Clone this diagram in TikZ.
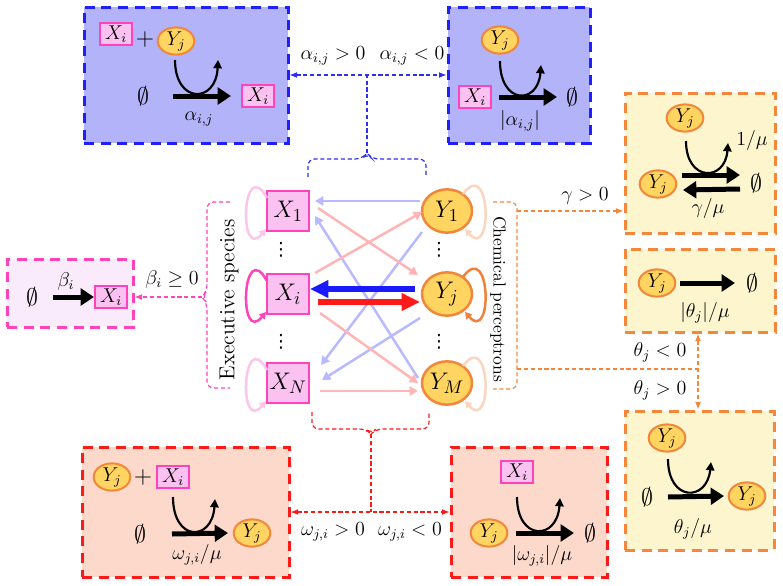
\documentclass[tikz,border=0pt]{standalone}
\usepackage{amsmath,amssymb}
\usepackage{fontspec}
\newfontfamily\djv{DejaVu Sans}
\usetikzlibrary{arrows.meta,calc,fit,shapes.geometric}
\definecolor{bluefill}{HTML}{B3B3F9}
\definecolor{bluedash}{HTML}{1F1FFF}
\definecolor{blueconn}{HTML}{2F2FF0}
\definecolor{redfill}{HTML}{FDD9CC}
\definecolor{reddash}{HTML}{FF1A1A}
\definecolor{orfill}{HTML}{FCF5CE}
\definecolor{ordash}{HTML}{F4873A}
\definecolor{pkfill}{HTML}{F9EBFB}
\definecolor{pkdash}{HTML}{FF44BB}
\definecolor{xfill}{HTML}{FBC2F1}
\definecolor{xdraw}{HTML}{FF44BB}
\definecolor{yfill}{HTML}{FFD460}
\definecolor{ydraw}{HTML}{F0873A}
\definecolor{lightblue}{HTML}{B9B9FF}
\definecolor{lightred}{HTML}{FFB5B5}
\definecolor{lightpink}{HTML}{FAC6EA}
\definecolor{lightorange}{HTML}{FAD5BF}
\definecolor{strongblue}{HTML}{1A1AFF}
\definecolor{strongred}{HTML}{FF1A1A}
\definecolor{strongorange}{HTML}{F0803A}
\tikzset{
  bigbox/.style={line width=1.8pt, dash pattern=on 6pt off 4pt, inner sep=0pt},
  bluebox/.style={bigbox, draw=bluedash, fill=bluefill},
  redbox/.style={bigbox, draw=reddash, fill=redfill},
  orbox/.style={bigbox, draw=ordash, fill=orfill},
  pinkbox/.style={bigbox, draw=pkdash, fill=pkfill},
  bigX/.style={draw=xdraw, fill=xfill, line width=1.5pt, minimum width=25pt, minimum height=24pt, inner sep=0pt, font=\fontsize{15}{18}\selectfont},
  bigY/.style={ellipse, draw=ydraw, fill=yfill, line width=1.5pt, minimum width=30pt, minimum height=26pt, inner sep=0pt, font=\fontsize{15}{18}\selectfont},
  smX/.style={draw=xdraw, fill=xfill, line width=1.2pt, minimum width=19pt, minimum height=13pt, inner sep=0pt, font=\large},
  smY/.style={ellipse, draw=ydraw, fill=yfill, line width=1.2pt, minimum width=22pt, minimum height=15pt, inner sep=0pt, font=\large},
  nul/.style={font=\Large, inner sep=0pt},
  plus/.style={font=\Large, inner sep=0pt},
  lab/.style={font=\large, inner sep=1pt},
  dots/.style={font=\djv\fontsize{11}{12}\selectfont, inner sep=0pt},
  rxn/.style={line width=3pt, -{Triangle[length=8pt,width=10pt]}},
  cat/.style={line width=1.3pt, -{Triangle[length=5pt,width=5pt]}},
  conn/.style={line width=0.7pt, dash pattern=on 2.5pt off 1.6pt, >={Latex[length=4.5pt,width=3.5pt]}},
  lightarr/.style={line width=1.5pt, -{Triangle[length=5pt,width=5.5pt]}},
  thickarr/.style={line width=3.5pt, -{Triangle[length=11pt,width=10pt]}},
  loopst/.style={line width=1.5pt, -{Triangle[length=4pt,width=4.5pt]}},
}
\begin{document}
\begin{tikzpicture}[x=0.6pt,y=-0.6pt]
\useasboundingbox (0,0) rectangle (783,586);

% ---------- boxes ----------
\node[bluebox, fit={(84,7) (288,143)}] (TL) {};
\node[bluebox, fit={(448,7) (590,143)}] (TR) {};
\node[pinkbox, fit={(7,259) (133,327)}] (LB) {};
\node[orbox, fit={(625,93) (775,233)}] (R1) {};
\node[orbox, fit={(625,249) (775,332)}] (R2) {};
\node[orbox, fit={(625,411) (774,550)}] (R3) {};
\node[redbox, fit={(82,447) (289,577)}] (BL) {};
\node[redbox, fit={(451,447) (607,577)}] (BR) {};

% ---------- top-left box ----------
\node[smX] (a1) at (116,34) {$X_i$};
\node[plus] (a2) at (145,40) {$+$};
\node[smY] (a3) at (176,41) {$Y_j$};
\node[nul] (a4) at (143,96) {$\emptyset$};
\node[smX] (a5) at (258,96) {$X_i$};
\draw[rxn] ($(a4)+(30,0)$) -- ($(a5)+(-27,0)$);
\draw[cat] ($(a3)+(-1,19)$) .. controls ($(a3)+(-1,63)$) and ($(a3)+(40,63)$) .. ($(a3)+(42,19)$);
\node[lab] (a6) at (199,119) {$\alpha_{i,j}$};

% ---------- top-right box ----------
\node[smY] (b1) at (500,40) {$Y_j$};
\node[smX] (b2) at (475,97) {$X_i$};
\node[nul] (b3) at (572,97) {$\emptyset$};
\draw[rxn] ($(b2)+(24,0)$) -- ($(b3)+(-15,0)$);
\draw[cat] ($(b1)+(0,21)$) .. controls ($(b1)+(0,65)$) and ($(b1)+(38,65)$) .. ($(b1)+(41,25)$);
\node[lab] (b4) at (520,121) {$|\alpha_{i,j}|$};

% ---------- left box ----------
\node[nul] (c1) at (32,297) {$\emptyset$};
\node[smX] (c2) at (111,297) {$X_i$};
\draw[rxn] ($(c1)+(21,0)$) -- ($(c2)+(-17,0)$);
\node[lab] (c3) at (66,281) {$\beta_i$};

% ---------- right box 1 ----------
\node[smY] (d1) at (685,118) {$Y_j$};
\node[smY] (d2) at (658,184) {$Y_j$};
\node[nul] (d3) at (756,183) {$\emptyset$};
\draw[rxn] ($(d2)+(24,-9)$) -- ($(d3)+(-16,-8)$);
\draw[rxn] ($(d3)+(-16,6)$) -- ($(d2)+(25,6)$);
\draw[cat] ($(d1)+(1,23)$) .. controls ($(d1)+(1,64)$) and ($(d1)+(40,64)$) .. ($(d1)+(43,25)$);
\node[lab] (d4) at (752,140) {$1/\mu$};
\node[lab] (d5) at (708,208) {$\gamma/\mu$};

% ---------- right box 2 ----------
\node[smY] (e1) at (657,283) {$Y_j$};
\node[nul] (e2) at (752,283) {$\emptyset$};
\draw[rxn] ($(e1)+(23,0)$) -- ($(e2)+(-17,0)$);
\node[lab] (e3) at (705,313) {$|\theta_j|/\mu$};

% ---------- right box 3 ----------
\node[smY] (f1) at (667,438) {$Y_j$};
\node[nul] (f2) at (647,497) {$\emptyset$};
\node[smY] (f3) at (747,496) {$Y_j$};
\draw[rxn] ($(f2)+(21,0)$) -- ($(f3)+(-23,0)$);
\draw[cat] ($(f1)+(1,21)$) .. controls ($(f1)+(1,64)$) and ($(f1)+(40,64)$) .. ($(f1)+(44,24)$);
\node[lab] (f4) at (693,529) {$\theta_j/\mu$};

% ---------- bottom-left box ----------
\node[smY] (g1) at (112,477) {$Y_j$};
\node[plus] (g5) at (143,477) {$+$};
\node[smX] (g2) at (173,477) {$X_i$};
\node[nul] (g3) at (140,534) {$\emptyset$};
\node[smY] (g4) at (252,533) {$Y_j$};
\draw[rxn] ($(g3)+(32,0)$) -- ($(g4)+(-24,0)$);
\draw[cat] ($(g2)+(0,20)$) .. controls ($(g2)+(0,65)$) and ($(g2)+(39,65)$) .. ($(g2)+(42,22)$);
\node[lab] (g6) at (197,555) {$\omega_{j,i}/\mu$};

% ---------- bottom-right box ----------
\node[smX] (h1) at (517,472) {$X_i$};
\node[smY] (h2) at (489,533) {$Y_j$};
\node[nul] (h3) at (590,533) {$\emptyset$};
\draw[rxn] ($(h2)+(27,0)$) -- ($(h3)+(-16,0)$);
\draw[cat] ($(h1)+(0,25)$) .. controls ($(h1)+(0,69)$) and ($(h1)+(40,69)$) .. ($(h1)+(43,26)$);
\node[lab] (h4) at (542,556) {$|\omega_{j,i}|/\mu$};

% ---------- central network ----------
\node[bigX] (X1) at (288,211) {$X_1$};
\node[bigX] (Xi) at (288,294) {$X_i$};
\node[bigX] (XN) at (288,383) {$X_N$};
\node[bigY] (Y1) at (447,211) {$Y_1$};
\node[bigY] (Yj) at (447,294) {$Y_j$};
\node[bigY] (YM) at (447,383) {$Y_M$};
\node[dots] (v1) at (281,250) {⋮};
\node[dots] (v2) at (281,342) {⋮};
\node[dots] (v3) at (439,250) {⋮};
\node[dots] (v4) at (439,342) {⋮};

% light arrows
\draw[lightarr, draw=lightblue] ($(Y1)+(-27,-10)$) -- ($(X1)+(27,-10)$);
\draw[lightarr, draw=lightblue] ($(YM)+(-29,-5)$) -- ($(X1)+(27,5)$);
\draw[lightarr, draw=lightblue] ($(Y1)+(-25,21)$) -- ($(XN)+(33,-18)$);
\draw[lightarr, draw=lightblue] ($(Yj)+(-27,24)$) -- ($(XN)+(34,-3)$);
\draw[lightarr, draw=lightred] ($(X1)+(30,-3)$) -- ($(Yj)+(-29,-19)$);
\draw[lightarr, draw=lightred] ($(Xi)+(27,-21)$) -- ($(Y1)+(-25,1)$);
\draw[lightarr, draw=lightred] ($(Xi)+(32,19)$) -- ($(YM)+(-29,0)$);
\draw[lightarr, draw=lightred] ($(XN)+(32,8)$) -- ($(YM)+(-29,8)$);
% thick arrows
\draw[thickarr, draw=strongblue] ($(Yj)+(-32,-5)$) -- ($(Xi)+(22,-5)$);
\draw[thickarr, draw=strongred] ($(Xi)+(30,8)$) -- ($(Yj)+(-27,8)$);

% self loops
\draw[loopst, draw=lightpink] ($(X1)+(-21,-13)$) .. controls ($(X1)+(-46,-58)$) and ($(X1)+(-50,52)$) .. ($(X1)+(-22,18)$);
\draw[loopst, draw=pkdash] ($(Xi)+(-21,-13)$) .. controls ($(Xi)+(-46,-58)$) and ($(Xi)+(-50,52)$) .. ($(Xi)+(-22,18)$);
\draw[loopst, draw=lightpink] ($(XN)+(-21,-13)$) .. controls ($(XN)+(-46,-58)$) and ($(XN)+(-50,52)$) .. ($(XN)+(-22,18)$);
\draw[loopst, draw=lightorange] ($(Y1)+(16,-17)$) .. controls ($(Y1)+(44,-55)$) and ($(Y1)+(46,50)$) .. ($(Y1)+(18,18)$);
\draw[loopst, draw=strongorange] ($(Yj)+(16,-17)$) .. controls ($(Yj)+(44,-55)$) and ($(Yj)+(46,50)$) .. ($(Yj)+(18,18)$);
\draw[loopst, draw=lightorange] ($(YM)+(16,-17)$) .. controls ($(YM)+(44,-55)$) and ($(YM)+(46,50)$) .. ($(YM)+(18,18)$);

% group labels
\node[rotate=90, font=\fontsize{13}{15}\selectfont] (ex) at (229,300) {Executive species};
\node[rotate=-90, font=\fontsize{10.5}{12}\selectfont] (ch) at (498,299) {Chemical perceptrons};

% ---------- blue connector (top) ----------
\coordinate (bt) at (367,153);
\draw[conn, draw=blueconn, rounded corners=4] (308,177) -- (308,159) -- (362,159) -- (bt) -- (372,159) -- (426,159) -- (426,177);
\draw[conn, draw=blueconn] (bt) -- (bt |- TL.east);
\draw[conn, draw=blueconn, <->] (TL.east) -- (TR.west);
\node[lab] (l1) at (333,56) {$\alpha_{i,j}>0$};
\node[lab] (l2) at (412,56) {$\alpha_{i,j}<0$};

% ---------- pink connector (left) ----------
\coordinate (pt) at (202,297);
\draw[conn, draw=pkdash, rounded corners=4] (230,202) -- (207,202) -- (207,291) -- (pt) -- (207,303) -- (207,388) -- (230,388);
\draw[conn, draw=pkdash, ->] (pt) -- (pt -| LB.east);
\node[lab] (l3) at (172,279) {$\beta_i\geq 0$};

% ---------- orange connector (right) ----------
\coordinate (oc1) at (517,211);
\coordinate (oc2) at (517,369);
\coordinate (oc3) at (698,369);
\draw[conn, draw=ordash, rounded corners=4] (493,202) -- (517,202) -- (517,389) -- (493,389);
\draw[conn, draw=ordash, ->] (oc1) -- (oc1 -| R1.west);
\draw[conn, draw=ordash] (oc2) -- (oc3);
\draw[conn, draw=ordash, <->] (R2.south -| oc3) -- (R3.north -| oc3);
\node[lab] (l4) at (585,196) {$\gamma>0$};
\node[lab] (l5) at (660,352) {$\theta_j<0$};
\node[lab] (l6) at (660,390) {$\theta_j>0$};

% ---------- red connector (bottom) ----------
\coordinate (rt) at (371,434);
\draw[conn, draw=reddash, rounded corners=4] (312,412) -- (312,429) -- (366,429) -- (rt) -- (376,429) -- (429,429) -- (429,412);
\draw[conn, draw=reddash] (rt) -- (rt |- BL.east);
\draw[conn, draw=reddash, <->] (BL.east) -- (BR.west);
\node[lab] (l7) at (333,532) {$\omega_{j,i}>0$};
\node[lab] (l8) at (410,532) {$\omega_{j,i}<0$};
\end{tikzpicture}
\end{document}
